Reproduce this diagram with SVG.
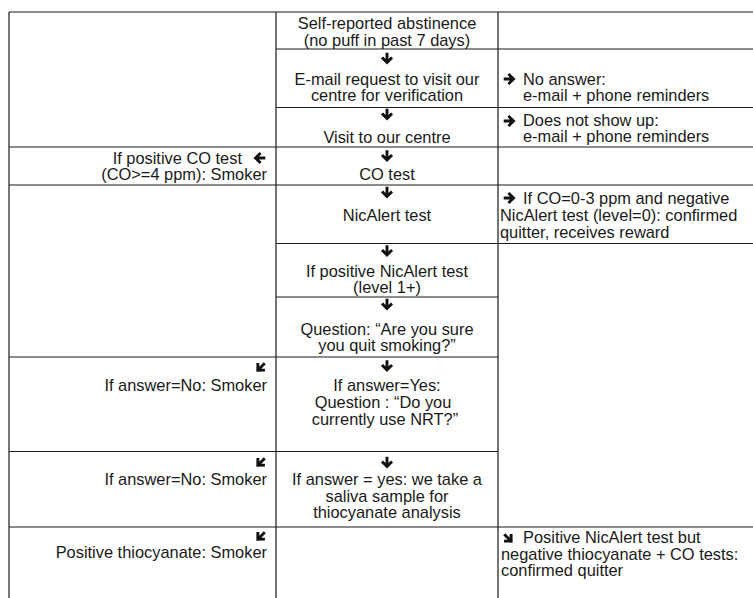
<svg xmlns="http://www.w3.org/2000/svg" xmlns:xlink="http://www.w3.org/1999/xlink" width="753" height="598" viewBox="0 0 753 598">
<style>
.t{font-family:"Liberation Sans",Arial,Helvetica,sans-serif;font-size:16.4px;fill:#1a1a1a}
.m{text-anchor:middle}
.r{text-anchor:end}
.grid line{stroke:#1a1a1a;stroke-width:1.2}
</style>
<defs>
<path id="ar" d="M0,-5.3V3.8M-5,-0.6L0,4.5L5,-0.6" fill="none" stroke="#111" stroke-width="2.9"/>
</defs>
<rect width="753" height="598" fill="#fff"/>
<g class="grid" id="grid">
<line x1="9" y1="12" x2="753" y2="12"/>
<line x1="276" y1="49" x2="753" y2="49"/>
<line x1="276" y1="107.5" x2="753" y2="107.5"/>
<line x1="9" y1="147" x2="753" y2="147"/>
<line x1="9" y1="185" x2="753" y2="185"/>
<line x1="276" y1="243.5" x2="753" y2="243.5"/>
<line x1="276" y1="297" x2="498" y2="297"/>
<line x1="9" y1="357" x2="498" y2="357"/>
<line x1="9" y1="451.5" x2="498" y2="451.5"/>
<line x1="9" y1="527" x2="753" y2="527"/>
<line x1="9" y1="12" x2="9" y2="598"/>
<line x1="276" y1="12" x2="276" y2="598"/>
<line x1="498" y1="12" x2="498" y2="598"/>
</g>
<g id="connectors">
<use xlink:href="#ar" transform="translate(387,58)"/>
<use xlink:href="#ar" transform="translate(387,114)"/>
<use xlink:href="#ar" transform="translate(387,155.5)"/>
<use xlink:href="#ar" transform="translate(387,192)"/>
<use xlink:href="#ar" transform="translate(387,250.5)"/>
<use xlink:href="#ar" transform="translate(387,304)"/>
<use xlink:href="#ar" transform="translate(387,365.5)"/>
<use xlink:href="#ar" transform="translate(387,462)"/>
<use xlink:href="#ar" transform="translate(260,158) rotate(90)"/>
<use xlink:href="#ar" transform="translate(509,79) rotate(-90)"/>
<use xlink:href="#ar" transform="translate(509,121) rotate(-90)"/>
<use xlink:href="#ar" transform="translate(509,198) rotate(-90)"/>
<use xlink:href="#ar" transform="translate(261,367) rotate(45)"/>
<use xlink:href="#ar" transform="translate(261,462) rotate(45)"/>
<use xlink:href="#ar" transform="translate(261,536) rotate(45)"/>
<use xlink:href="#ar" transform="translate(508,538) rotate(-45)"/>
</g>
<g id="n1"><text class="t m" x="387" y="29">Self-reported abstinence</text><text class="t m" x="387" y="45.6">(no puff in past 7 days)</text></g>
<g id="n2"><text class="t m" x="387" y="84.5">E-mail request to visit our</text><text class="t m" x="387" y="101">centre for verification</text></g>
<g id="n2r"><text class="t" x="523" y="84.5">No answer:</text><text class="t" x="523" y="101">e-mail + phone reminders</text></g>
<g id="n3"><text class="t m" x="387" y="142.5">Visit to our centre</text></g>
<g id="n3r"><text class="t" x="523" y="125.8">Does not show up:</text><text class="t" x="523" y="142.4">e-mail + phone reminders</text></g>
<g id="n4l"><text class="t r" x="242" y="163.5">If positive CO test</text><text class="t r" x="267" y="180">(CO&gt;=4 ppm): Smoker</text></g>
<g id="n4"><text class="t m" x="387" y="180">CO test</text></g>
<g id="n5"><text class="t m" x="387" y="220.5">NicAlert test</text></g>
<g id="n5r"><text class="t" x="523" y="203.5">If CO=0-3 ppm and negative</text><text class="t" x="500" y="220.5">NicAlert test (level=0): confirmed</text><text class="t" x="500" y="237.5">quitter, receives reward</text></g>
<g id="n6"><text class="t m" x="387" y="276.5">If positive NicAlert test</text><text class="t m" x="387" y="293">(level 1+)</text></g>
<g id="n7"><text class="t m" x="387" y="334.5">Question: “Are you sure</text><text class="t m" x="387" y="351">you quit smoking?”</text></g>
<g id="n8l"><text class="t r" x="267" y="391">If answer=No: Smoker</text></g>
<g id="n8"><text class="t m" x="387" y="391">If answer=Yes:</text><text class="t m" x="383" y="408">Question : “Do you</text><text class="t m" x="385" y="425">currently use NRT?”</text></g>
<g id="n9l"><text class="t r" x="267" y="485">If answer=No: Smoker</text></g>
<g id="n9"><text class="t m" x="387" y="485">If answer = yes: we take a</text><text class="t m" x="387" y="501.5">saliva sample for</text><text class="t m" x="387" y="518">thiocyanate analysis</text></g>
<g id="n10l"><text class="t r" x="267" y="558">Positive thiocyanate: Smoker</text></g>
<g id="n10r"><text class="t" x="523" y="543">Positive NicAlert test but</text><text class="t" x="501" y="559.5">negative thiocyanate + CO tests:</text><text class="t" x="501" y="576">confirmed quitter</text></g>
</svg>
